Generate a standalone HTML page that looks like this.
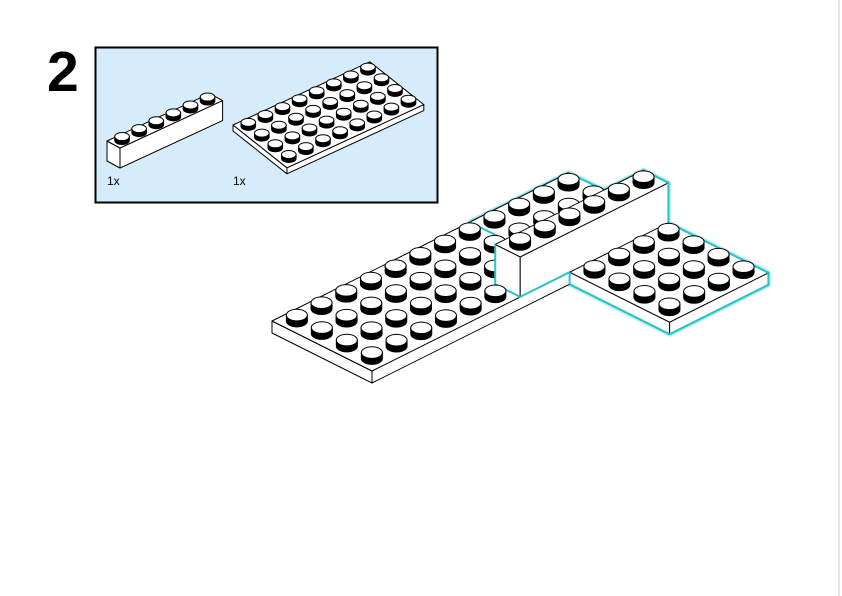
<!DOCTYPE html>
<html><head><meta charset="utf-8">
<style>
html,body{margin:0;padding:0;background:#fff;}
body{width:842px;height:596px;overflow:hidden;position:relative;font-family:"Liberation Sans",sans-serif;}
#num{position:absolute;left:47px;top:44px;font-size:57px;font-weight:bold;line-height:1;}
#vline{position:absolute;left:838px;top:0;width:2px;height:596px;background:#e6e6e6;}
svg{position:absolute;left:0;top:0;}
</style></head><body>
<div id="num">2</div>
<div id="vline"></div>
<svg id="s" width="842" height="596" viewBox="0 0 842 596" xmlns="http://www.w3.org/2000/svg">
<rect x="95.5" y="47.5" width="342" height="155" fill="#d6ecfb" stroke="#000" stroke-width="2"/>
<text x="107" y="185" font-family="Liberation Sans, sans-serif" font-size="12">1x</text>
<text x="233" y="185" font-family="Liberation Sans, sans-serif" font-size="12">1x</text>
<g id="g"></g>
</svg>
<script>
var g=document.getElementById('g');var NS='http://www.w3.org/2000/svg';
function el(t,a){var e=document.createElementNS(NS,t);for(var k in a)e.setAttribute(k,a[k]);g.appendChild(e);return e;}
function poly(pts,fill,stroke,sw){el('polygon',{points:pts.map(function(p){return p[0].toFixed(1)+','+p[1].toFixed(1)}).join(' '),fill:fill||'#fff',stroke:stroke||'#000','stroke-width':sw||1,'stroke-linejoin':'round'});}
function stud(cx,cy,rx,ry,h){
 el('path',{d:'M'+(cx-rx)+','+(cy-h)+' L'+(cx-rx)+','+cy+' A'+rx+','+ry+' 0 0 0 '+(cx+rx)+','+cy+' L'+(cx+rx)+','+(cy-h)+' Z',fill:'#000',stroke:'#000','stroke-width':1});
 el('ellipse',{cx:cx,cy:cy-h,rx:rx,ry:ry,fill:'#fff',stroke:'#000','stroke-width':1});
}
function mk(ox,oy,u,v){return function(i,j,z){return [ox+u[0]*i+v[0]*j, oy+u[1]*i+v[1]*j-(z||0)];};}
var Q=mk(233,125,[17.1,-7.9],[13.5,10.7]);
poly([Q(0,0,0),Q(0,4,0),Q(0,4,-6),Q(0,0,-6)]);
poly([Q(0,4,0),Q(8,4,0),Q(8,4,-6),Q(0,4,-6)]);
poly([Q(0,0,0),Q(8,0,0),Q(8,4,0),Q(0,4,0)]);
var L=[];for(var j=0;j<4;j++)for(var i=0;i<8;i++){L.push(Q(i+.5,j+.5,0));}
L.sort(function(a,b){return a[1]-b[1]});L.forEach(function(p){stud(p[0],p[1],7.3,4,4);});
var B=mk(107,161,[17.1,-7.9],[13,7]);
poly([B(0,0,0),B(0,1,0),B(0,1,20),B(0,0,20)]);
poly([B(0,1,0),B(6,1,0),B(6,1,20),B(0,1,20)]);
poly([B(0,0,20),B(6,0,20),B(6,1,20),B(0,1,20)]);
for(var i=5;i>=0;i--){var p=B(i+.5,.5,20);stud(p[0],p[1],7.3,4,4);}
var P=mk(272,321,[24.7,-12.35],[25,12.5]);
var T=12,H=40;
var sil=[P(8,0,0),[505,239.5],P(6,3,H),P(6,3,0),P(6,4,0),P(8,4,0),P(8,4,-T),P(8,8,-T),P(12,8,-T),P(12,8,0),P(12,4,0),P(12,4,H),P(12,3,H),[604,190],P(12,0,0)];
poly(sil,'none','#b5ecec',5);
poly(sil,'none','#2cc3c6',2);
poly([P(0,0,0),P(0,4,0),P(0,4,-T),P(0,0,-T)]);
poly([P(0,4,0),P(8,4,0),P(8,4,-T),P(0,4,-T)]);
poly([P(0,0,0),P(8,0,0),P(8,4,0),P(0,4,0)]);
poly([P(8,4,0),P(8,8,0),P(8,8,-T),P(8,4,-T)]);
poly([P(8,8,0),P(12,8,0),P(12,8,-T),P(8,8,-T)]);
poly([P(8,0,0),P(12,0,0),P(12,8,0),P(8,8,0)]);
function cl(a,b){el('line',{x1:a[0],y1:a[1],x2:b[0],y2:b[1],stroke:'#2cc3c6','stroke-width':2});}
cl(P(8,4,-T),P(8,8,-T));cl(P(8,8,-T),P(12,8,-T));cl(P(12,8,-T),P(12,8,0));cl(P(12,8,0),P(12,4,0));cl(P(8,4,0),P(8,4,-T));cl(P(8,0,0),[505,239.5]);cl(P(12,0,0),[604,190]);
var A=[],Bs=[];
for(var j=0;j<4;j++)for(var i=0;i<8;i++){if(j==3&&i>=6)continue;(j<=2?A:Bs).push(P(i+.5,j+.5,0));}
for(var j=0;j<8;j++)for(var i=8;i<12;i++){if(j==3)continue;(j<=2?A:Bs).push(P(i+.5,j+.5,0));}
A.sort(function(a,b){return a[1]-b[1]});Bs.sort(function(a,b){return a[1]-b[1]});
A.forEach(function(p){stud(p[0],p[1],10.5,5.8,6);});
poly([P(6,3,0),P(6,4,0),P(6,4,H),P(6,3,H)]);
poly([P(6,4,0),P(12,4,0),P(12,4,H),P(6,4,H)]);
poly([P(6,3,H),P(12,3,H),P(12,4,H),P(6,4,H)]);
cl(P(6,3,H),P(6,3,0));cl(P(6,3,0),P(6,4,0));cl(P(6,4,0),P(8,4,0));cl(P(12,4,H),P(12,4,0));cl(P(12,3,H),P(12,4,H));
for(var i=11;i>=6;i--){var p=P(i+.5,3.5,H);stud(p[0],p[1],10.5,5.8,6);}
Bs.forEach(function(p){stud(p[0],p[1],10.5,5.8,6);});
</script>
</body></html>
